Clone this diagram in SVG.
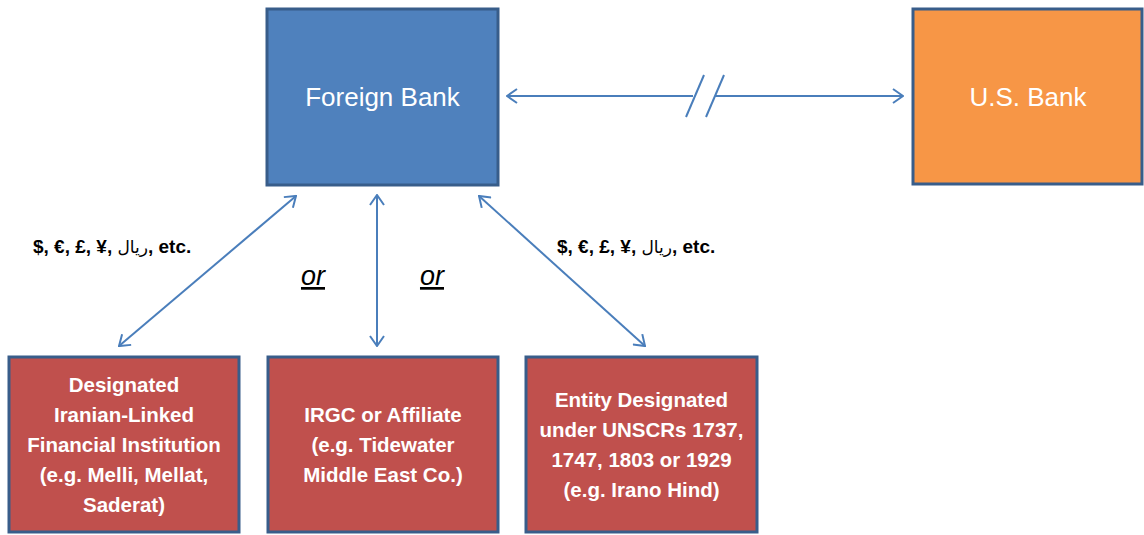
<svg xmlns="http://www.w3.org/2000/svg" width="1144" height="535" viewBox="0 0 1144 535">
<defs>
<style>
.box{stroke:#385d8a;stroke-width:3}
.blue{fill:#4f81bd}
.orange{fill:#f79646}
.red{fill:#c0504d}
.title{font-family:"Liberation Sans",Arial,sans-serif;font-size:26px;fill:#ffffff;text-anchor:middle}
.txt{font-family:"Liberation Sans",Arial,sans-serif;font-size:20.5px;font-weight:bold;fill:#ffffff;text-anchor:middle}
.cur{font-family:"Liberation Sans","DejaVu Sans",Arial,sans-serif;font-size:19px;font-weight:bold;fill:#000000}
.ar{font-family:"DejaVu Sans",sans-serif;font-size:17px;font-weight:normal}
.or{font-family:"Liberation Sans",Arial,sans-serif;font-size:27px;font-style:italic;fill:#000000;text-anchor:middle;text-decoration:underline}
.con{stroke:#4a7ebb;stroke-width:2;fill:none}
</style>
<marker id="arr" viewBox="0 0 12 16" refX="11" refY="8" markerWidth="12" markerHeight="16" markerUnits="userSpaceOnUse" orient="auto-start-reverse">
<path d="M1,1 L11,8 L1,15" fill="none" stroke="#4a7ebb" stroke-width="2"/>
</marker>
</defs>
<rect width="1144" height="535" fill="#ffffff"/>
<g id="connectors">
<line class="con" x1="507" y1="96" x2="693" y2="96" marker-start="url(#arr)"/>
<line class="con" x1="715" y1="96" x2="903" y2="96" marker-end="url(#arr)"/>
<line class="con" x1="686" y1="117" x2="704" y2="75"/>
<line class="con" x1="706" y1="117" x2="724" y2="75"/>
<line class="con" x1="119" y1="346" x2="296" y2="196" marker-start="url(#arr)" marker-end="url(#arr)"/>
<line class="con" x1="377" y1="195" x2="377" y2="346" marker-start="url(#arr)" marker-end="url(#arr)"/>
<line class="con" x1="479" y1="196" x2="645" y2="346" marker-start="url(#arr)" marker-end="url(#arr)"/>
</g>
<g id="foreign-bank">
<rect class="box blue" x="267" y="9" width="231" height="176"/>
<text class="title" x="382.5" y="106">Foreign Bank</text>
</g>
<g id="us-bank">
<rect class="box orange" x="913" y="9" width="229" height="175"/>
<text class="title" x="1028" y="106">U.S. Bank</text>
</g>
<g id="designated-fi">
<rect class="box red" x="9" y="357" width="230" height="175"/>
<text class="txt" x="124" y="392">Designated</text>
<text class="txt" x="124" y="422">Iranian-Linked</text>
<text class="txt" x="124" y="452">Financial Institution</text>
<text class="txt" x="124" y="482">(e.g. Melli, Mellat,</text>
<text class="txt" x="124" y="512">Saderat)</text>
</g>
<g id="irgc">
<rect class="box red" x="268" y="357" width="230" height="175"/>
<text class="txt" x="383" y="422">IRGC or Affiliate</text>
<text class="txt" x="383" y="452">(e.g. Tidewater</text>
<text class="txt" x="383" y="482">Middle East Co.)</text>
</g>
<g id="unscr-entity">
<rect class="box red" x="526" y="357" width="231" height="175"/>
<text class="txt" x="641.5" y="407">Entity Designated</text>
<text class="txt" x="641.5" y="437">under UNSCRs 1737,</text>
<text class="txt" x="641.5" y="467">1747, 1803 or 1929</text>
<text class="txt" x="641.5" y="497">(e.g. Irano Hind)</text>
</g>
<g id="labels">
<text class="cur" x="33" y="253">$, €, £, ¥, <tspan class="ar">ريال</tspan>, etc.</text>
<text class="cur" x="557" y="253">$, €, £, ¥, <tspan class="ar">ريال</tspan>, etc.</text>
<text class="or" x="313" y="285">or</text>
<text class="or" x="432" y="285">or</text>
</g>
</svg>
